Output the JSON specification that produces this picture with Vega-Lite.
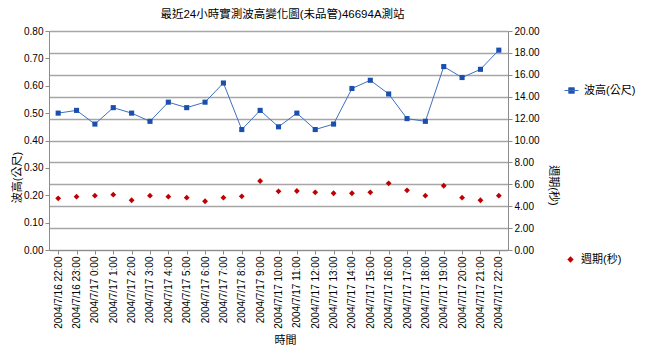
{
  "$schema": "https://vega.github.io/schema/vega-lite/v6.json",
  "width": 459,
  "height": 219,
  "autosize": {"type": "none"},
  "padding": {"left": 49, "top": 31, "right": 137, "bottom": 102},
  "background": "white",
  "title": {
    "text": "最近24小時實測波高變化圖(未品管)46694A測站",
    "fontSize": 11.5,
    "fontWeight": "normal",
    "font": "Liberation Sans, Noto Sans CJK TC",
    "color": "#000000",
    "offset": 6,
    "dx": 4
  },
  "config": {
    "view": {"stroke": null},
    "font": "Liberation Sans, Noto Sans CJK TC",
    "axis": {
      "labelFont": "Liberation Sans, Noto Sans CJK TC",
      "titleFont": "Liberation Sans, Noto Sans CJK TC",
      "labelFontSize": 10,
      "labelColor": "#000000",
      "titleFontSize": 11,
      "titleFontWeight": "normal",
      "titleColor": "#000000",
      "domainColor": "#8c8c8c",
      "tickColor": "#8c8c8c",
      "tickSize": 4,
      "labelOverlap": false
    },
    "legend": {
      "labelFont": "Liberation Sans, Noto Sans CJK TC",
      "labelFontSize": 11,
      "labelColor": "#000000",
      "labelOffset": 5,
      "padding": 0
    }
  },
  "data": {
    "values": [
      {"time": "2004/7/16 22:00", "height": 0.50, "period": 4.72},
      {"time": "2004/7/16 23:00", "height": 0.51, "period": 4.87},
      {"time": "2004/7/17 0:00", "height": 0.46, "period": 4.96},
      {"time": "2004/7/17 1:00", "height": 0.52, "period": 5.05},
      {"time": "2004/7/17 2:00", "height": 0.50, "period": 4.54},
      {"time": "2004/7/17 3:00", "height": 0.47, "period": 4.96},
      {"time": "2004/7/17 4:00", "height": 0.54, "period": 4.87},
      {"time": "2004/7/17 5:00", "height": 0.52, "period": 4.78},
      {"time": "2004/7/17 6:00", "height": 0.54, "period": 4.45},
      {"time": "2004/7/17 7:00", "height": 0.61, "period": 4.78},
      {"time": "2004/7/17 8:00", "height": 0.44, "period": 4.90},
      {"time": "2004/7/17 9:00", "height": 0.51, "period": 6.30},
      {"time": "2004/7/17 10:00", "height": 0.45, "period": 5.36},
      {"time": "2004/7/17 11:00", "height": 0.50, "period": 5.39},
      {"time": "2004/7/17 12:00", "height": 0.44, "period": 5.27},
      {"time": "2004/7/17 13:00", "height": 0.46, "period": 5.18},
      {"time": "2004/7/17 14:00", "height": 0.59, "period": 5.18},
      {"time": "2004/7/17 15:00", "height": 0.62, "period": 5.27},
      {"time": "2004/7/17 16:00", "height": 0.57, "period": 6.09},
      {"time": "2004/7/17 17:00", "height": 0.48, "period": 5.45},
      {"time": "2004/7/17 18:00", "height": 0.47, "period": 4.96},
      {"time": "2004/7/17 19:00", "height": 0.67, "period": 5.87},
      {"time": "2004/7/17 20:00", "height": 0.63, "period": 4.78},
      {"time": "2004/7/17 21:00", "height": 0.66, "period": 4.54},
      {"time": "2004/7/17 22:00", "height": 0.73, "period": 4.96}
    ]
  },
  "encoding": {
    "x": {
      "field": "time",
      "type": "nominal",
      "sort": null,
      "scale": {"paddingInner": 0, "paddingOuter": 0},
      "axis": {
        "title": "時間",
        "labelAngle": 270,
        "labelAlign": "right",
        "labelBaseline": "middle",
        "labelPadding": 2,
        "ticks": true,
        "titleX": 236,
        "titleY": 90,
        "titleBaseline": "middle",
        "titleAlign": "center"
      }
    }
  },
  "layer": [
    {
      "encoding": {
        "y": {
          "field": "height",
          "type": "quantitative",
          "scale": {"domain": [0, 0.8], "nice": false},
          "axis": {
            "title": "波高(公尺)",
            "values": [0, 0.1, 0.2, 0.3, 0.4, 0.5, 0.6, 0.7, 0.8],
            "format": ".2f",
            "grid": false,
            "orient": "left",
            "titleAngle": 270,
            "titleX": -32,
            "titleY": 146,
            "titleBaseline": "middle",
            "titleAlign": "center"
          }
        }
      },
      "layer": [
        {
          "mark": {"type": "line", "color": "#3F6FBF", "strokeWidth": 1}
        },
        {
          "mark": {"type": "point", "shape": "square", "filled": true, "size": 26, "opacity": 1},
          "encoding": {
            "color": {
              "datum": "波高(公尺)",
              "type": "nominal",
              "scale": {"domain": ["波高(公尺)"], "range": ["#1A4FAE"]},
              "legend": {
                "title": null,
                "orient": "none",
                "legendX": 515,
                "legendY": 52,
                "symbolType": "M-1,0H1M-0.4,-0.4H0.4V0.4H-0.4Z",
                "symbolSize": 196,
                "symbolStrokeColor": "#3F6FBF",
                "symbolStrokeWidth": 1,
                "symbolOpacity": 1
              }
            }
          }
        }
      ]
    },
    {
      "mark": {"type": "point", "shape": "diamond", "filled": true, "size": 34, "opacity": 1},
      "encoding": {
        "y": {
          "field": "period",
          "type": "quantitative",
          "scale": {"domain": [0, 20], "nice": false},
          "axis": {
            "title": "週期(秒)",
            "orient": "right",
            "values": [0, 2, 4, 6, 8, 10, 12, 14, 16, 18, 20],
            "format": ".2f",
            "grid": true,
            "gridColor": "#a6a6a6",
            "gridWidth": 1.5,
            "titleAngle": 90,
            "titleX": 44,
            "titleY": 154,
            "titleBaseline": "middle",
            "titleAlign": "center"
          }
        },
        "color": {
          "datum": "週期(秒)",
          "type": "nominal",
          "scale": {"domain": ["週期(秒)"], "range": ["#C00000"]},
          "legend": {
            "title": null,
            "orient": "none",
            "legendX": 516,
            "legendY": 223,
            "symbolType": "diamond",
            "symbolSize": 40,
            "symbolOpacity": 1
          }
        }
      }
    }
  ],
  "resolve": {"scale": {"y": "independent", "color": "independent"}, "legend": {"color": "independent"}}
}
